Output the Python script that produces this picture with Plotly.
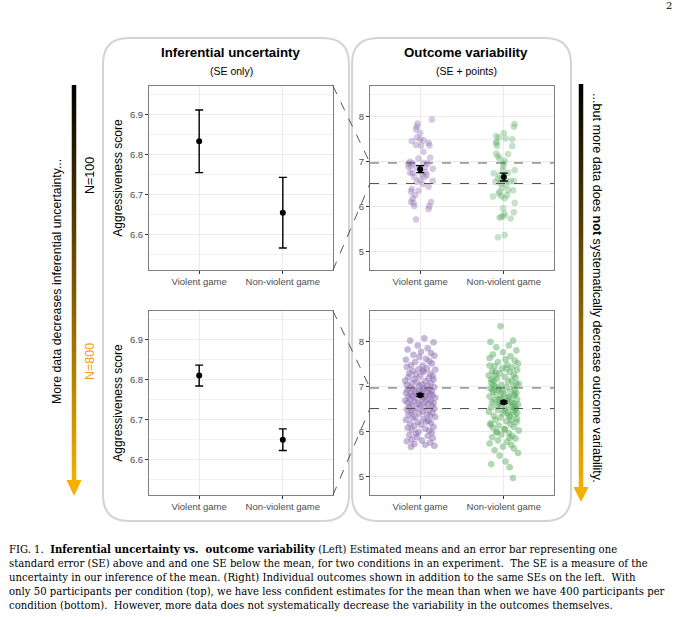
import plotly.graph_objects as go

W, H = 680, 617

categories = ["Violent game", "Non-violent game"]

# top row: 50 participants per condition
top_means = [6.833, 6.655]
top_se = [0.078, 0.088]
# bottom row: 400 participants per condition
bottom_means = [6.810, 6.650]
bottom_se = [0.026, 0.027]

left_yrange = [6.512, 6.971]
right_yrange = [4.58, 8.69]

# individual outcomes, top (N=50 each)
top_violent = [7.94, 7.85, 7.78, 7.72, 7.64, 7.54, 7.46, 7.50, 7.48, 7.42,
               7.37, 7.36, 7.36, 7.22, 7.07, 7.09, 7.00, 6.96, 6.96, 6.90,
               6.97, 6.96, 6.84, 6.75, 6.75, 6.77, 6.70, 6.66, 6.59, 6.55,
               6.57, 6.50, 6.39, 6.33, 6.35, 6.25, 6.18, 6.10, 6.08, 6.01,
               6.10, 6.01, 5.94, 5.71, 6.87, 6.72, 6.88, 6.88, 6.66, 6.44]
top_violent_jit = [0.14, -0.03, -0.04, -0.05, 0.00, -0.04, -0.10, 0.00, 0.04, 0.10,
                   -0.05, 0.01, 0.11, 0.04, -0.02, 0.12, -0.12, -0.14, -0.09, -0.11,
                   0.04, 0.09, 0.15, -0.12, -0.09, 0.06, 0.08, 0.05, 0.00, -0.04,
                   0.15, 0.03, -0.10, -0.11, -0.02, -0.06, -0.09, -0.11, -0.08, -0.07,
                   0.13, 0.11, 0.10, -0.05, -0.04, 0.02, -0.14, 0.06, -0.07, 0.10]
top_nonviolent = [7.84, 7.78, 7.64, 7.57, 7.54, 7.52, 7.50, 7.44, 7.35, 7.35,
                  7.18, 7.12, 7.07, 7.17, 7.02, 6.96, 6.90, 6.81, 6.74, 6.70,
                  6.75, 6.62, 6.59, 6.57, 6.57, 6.57, 6.48, 6.42, 6.33, 6.29,
                  6.36, 6.22, 6.23, 6.25, 6.08, 5.96, 5.84, 5.87, 5.77, 5.75,
                  5.73, 5.78, 5.31, 5.36, 6.81, 6.51, 6.36, 6.55, 6.18, 7.41]
top_nonviolent_jit = [0.13, 0.12, 0.00, -0.09, -0.06, 0.02, 0.10, -0.09, -0.08, 0.10,
                      -0.09, -0.07, -0.05, 0.05, 0.01, 0.00, -0.01, 0.13, -0.12, -0.05,
                      0.05, -0.07, -0.03, 0.03, 0.08, 0.12, 0.03, -0.02, -0.05, -0.06,
                      0.11, -0.13, -0.03, 0.04, 0.13, -0.01, 0.01, 0.12, -0.03, -0.05,
                      0.08, 0.00, -0.07, 0.01, -0.01, -0.04, 0.05, -0.10, 0.01, -0.09]

# individual outcomes, bottom (N=400 each, estimated subset of the cloud)
bottom_violent = [8.08, 8.03, 7.99, 7.92, 7.86, 7.83, 7.78, 7.75, 7.71, 7.69, 7.66, 7.62, 7.60, 7.57,
                  7.55, 7.52, 7.48, 7.47, 7.44, 7.41, 7.39, 7.38, 7.35, 7.33, 7.30, 7.29, 7.27, 7.24,
                  7.23, 7.21, 7.19, 7.17, 7.16, 7.13, 7.12, 7.10, 7.08, 7.07, 7.05, 7.04, 7.02, 7.01,
                  6.99, 6.98, 6.97, 6.95, 6.94, 6.93, 6.91, 6.90, 6.89, 6.88, 6.86, 6.85, 6.84, 6.83,
                  6.82, 6.81, 6.80, 6.79, 6.78, 6.76, 6.75, 6.74, 6.73, 6.72, 6.70, 6.69, 6.68, 6.67,
                  6.66, 6.64, 6.63, 6.62, 6.61, 6.59, 6.58, 6.57, 6.55, 6.54, 6.52, 6.51, 6.49, 6.48,
                  6.46, 6.45, 6.43, 6.42, 6.40, 6.38, 6.37, 6.35, 6.33, 6.32, 6.30, 6.28, 6.26, 6.24,
                  6.22, 6.21, 6.19, 6.17, 6.15, 6.12, 6.10, 6.08, 6.06, 6.04, 6.02, 5.99, 5.97, 5.95,
                  5.92, 5.90, 5.87, 5.85, 5.82, 5.80, 5.78, 5.75, 5.72, 5.70, 5.68, 5.66, 7.36, 6.91]
bottom_violent_jit = [0.05, -0.12, 0.16, -0.03, 0.09, -0.15, 0.01, 0.13, -0.08, 0.17, -0.01, 0.07, -0.17, 0.11,
                      -0.06, 0.14, -0.11, 0.03, -0.16, 0.08, -0.02, 0.18, -0.09, 0.04, -0.13, 0.12, -0.05, 0.15,
                      0.00, -0.14, 0.10, -0.07, 0.16, -0.18, 0.06, -0.04, 0.13, -0.10, 0.02, -0.16, 0.09, -0.01,
                      0.17, -0.12, 0.05, -0.08, 0.11, -0.15, 0.03, 0.14, -0.06, 0.08, -0.17, 0.01, -0.11, 0.12,
                      -0.03, 0.15, -0.09, 0.07, -0.14, 0.04, 0.18, -0.05, 0.10, -0.12, 0.02, -0.18, 0.13, -0.07,
                      0.06, -0.15, 0.16, -0.02, 0.09, -0.10, 0.00, 0.14, -0.13, 0.05, -0.04, 0.17, -0.16, 0.11,
                      -0.08, 0.03, -0.11, 0.15, -0.01, 0.08, -0.14, 0.12, -0.06, 0.18, -0.09, 0.04, -0.17, 0.10,
                      0.07, -0.03, 0.13, -0.12, 0.01, -0.07, 0.16, -0.15, 0.06, -0.10, 0.11, -0.02, 0.14, -0.05,
                      -0.13, 0.09, -0.04, 0.15, -0.10, 0.02, -0.16, 0.12, -0.07, 0.06, 0.17, -0.11, 0.03, -0.01]
bottom_nonviolent = [8.35, 8.03, 8.00, 7.92, 7.88, 7.81, 7.77, 7.72, 7.68, 7.64, 7.61, 7.58, 7.55, 7.52,
                     7.49, 7.46, 7.43, 7.41, 7.38, 7.35, 7.33, 7.30, 7.27, 7.25, 7.22, 7.20, 7.18, 7.15,
                     7.13, 7.11, 7.09, 7.06, 7.04, 7.02, 7.00, 6.98, 6.96, 6.94, 6.92, 6.90, 6.88, 6.86,
                     6.84, 6.82, 6.80, 6.78, 6.76, 6.74, 6.72, 6.70, 6.68, 6.66, 6.64, 6.62, 6.60, 6.58,
                     6.56, 6.54, 6.52, 6.50, 6.48, 6.46, 6.44, 6.42, 6.40, 6.38, 6.35, 6.33, 6.31, 6.28,
                     6.26, 6.23, 6.21, 6.18, 6.16, 6.13, 6.10, 6.08, 6.05, 6.02, 5.99, 5.96, 5.93, 5.90,
                     5.87, 5.84, 5.80, 5.77, 5.73, 5.70, 5.66, 5.62, 5.58, 5.52, 5.46, 5.33, 5.27, 5.20,
                     4.96, 6.71, 6.93, 6.47, 7.07, 6.59, 6.36, 7.26, 6.82, 6.15, 6.67, 7.40, 5.98, 6.54,
                     6.77, 7.03, 6.41, 6.88, 6.25, 7.16, 6.62, 6.95, 6.05, 7.33, 6.51, 6.73, 5.86, 7.47]
bottom_nonviolent_jit = [-0.04, 0.11, -0.16, 0.06, -0.09, 0.15, -0.01, -0.13, 0.08, -0.17, 0.02, 0.13, -0.07, 0.17,
                         0.04, -0.11, 0.10, -0.02, 0.16, -0.14, 0.07, -0.05, 0.12, -0.18, 0.01, 0.14, -0.08, 0.09,
                         -0.12, 0.05, -0.15, 0.18, -0.03, 0.11, -0.10, 0.03, -0.16, 0.13, -0.06, 0.08, -0.13, 0.15,
                         0.00, -0.09, 0.12, -0.17, 0.06, -0.02, 0.16, -0.11, 0.04, -0.14, 0.10, -0.05, 0.17, -0.08,
                         0.09, -0.15, 0.02, 0.14, -0.07, 0.11, -0.18, 0.05, -0.01, 0.13, -0.12, 0.07, -0.04, 0.16,
                         -0.10, 0.03, 0.15, -0.16, 0.08, -0.06, 0.12, -0.13, 0.01, 0.18, -0.09, 0.06, -0.03, 0.10,
                         -0.14, 0.14, -0.07, 0.04, -0.17, 0.09, -0.01, 0.12, -0.11, 0.17, -0.05, 0.02, -0.15, 0.07,
                         0.11, -0.06, -0.13, 0.01, 0.15, -0.03, 0.06, -0.10, 0.13, -0.16, 0.08, 0.03, -0.08, 0.12,
                         0.05, -0.12, 0.16, -0.02, 0.09, -0.15, 0.13, -0.06, 0.01, -0.10, 0.14, -0.04, 0.07, -0.17]

caption_lines = [
    "FIG. 1.  <b>Inferential uncertainty vs.  outcome variability</b> (Left) Estimated means and an error bar representing one",
    "standard error (SE) above and and one SE below the mean, for two conditions in an experiment.  The SE is a measure of the",
    "uncertainty in our inference of the mean. (Right) Individual outcomes shown in addition to the same SEs on the left.  With",
    "only 50 participants per condition (top), we have less confident estimates for the mean than when we have 400 participants per",
    "condition (bottom).  However, more data does not systematically decrease the variability in the outcomes themselves.",
]

SANS = "Liberation Sans, Arial, sans-serif"
SERIF = "DejaVu Serif, serif"
PURPLE = "#8c6bb1"
GREEN = "#5aae61"
GOLD = "#f5b000"


def X(x):
    return x / W


def Y(y):
    return 1 - y / H


# subplot areas in pixels (left, right, top, bottom)
dom_left_x = [X(149), X(333)]
dom_right_x = [X(370), X(554)]
dom_top_y = [Y(270), Y(86)]
dom_bot_y = [Y(495), Y(311)]

fig = go.Figure()

# points (right column)
for vals, jit, pos, col, axes, op in [
    (top_violent, top_violent_jit, 0, PURPLE, ("x3", "y3"), 0.35),
    (top_nonviolent, top_nonviolent_jit, 1, GREEN, ("x3", "y3"), 0.35),
    (bottom_violent, bottom_violent_jit, 0, PURPLE, ("x4", "y4"), 0.48),
    (bottom_nonviolent, bottom_nonviolent_jit, 1, GREEN, ("x4", "y4"), 0.48),
]:
    fig.add_trace(go.Scatter(
        x=[pos + j for j in jit], y=vals, mode="markers",
        xaxis=axes[0], yaxis=axes[1], showlegend=False, hoverinfo="y",
        marker=dict(size=6, color=col, opacity=op, line=dict(width=0.8, color=col))
    ))

# means with one SE either side
for means, se, axes in [
    (top_means, top_se, ("x", "y")),
    (bottom_means, bottom_se, ("x2", "y2")),
    (top_means, top_se, ("x3", "y3")),
    (bottom_means, bottom_se, ("x4", "y4")),
]:
    fig.add_trace(go.Scatter(
        x=[0, 1], y=means, mode="markers", xaxis=axes[0], yaxis=axes[1],
        showlegend=False, marker=dict(size=6, color="black"),
        error_y=dict(type="data", array=se, color="black", thickness=1.4, width=4)
    ))

# gradient bars for the two arrows
for xa, ya in [("x5", "y5"), ("x6", "y6")]:
    fig.add_trace(go.Heatmap(
        z=[[0, 0], [1, 1]], x=[0, 1], y=[0, 1], xaxis=xa, yaxis=ya,
        colorscale=[[0, GOLD], [1, "#000000"]], zsmooth="best",
        showscale=False, hoverinfo="skip"
    ))

tick_font = dict(family=SANS, size=9.5, color="#4d4d4d")


def cat_xaxis(dom, anchor):
    return dict(domain=dom, anchor=anchor, range=[-0.6, 1.6], tickvals=[0, 1],
                ticktext=categories, ticks="outside", ticklen=3, tickcolor="#333333",
                tickfont=tick_font, showgrid=True, gridcolor="#ebebeb", gridwidth=1,
                zeroline=False, showline=True, linecolor="#7f7f7f", linewidth=1, mirror=True,
                fixedrange=True)


def val_yaxis(dom, anchor, rng, ticks, minor, fmt, title):
    return dict(domain=dom, anchor=anchor, range=rng, tickvals=ticks, tickformat=fmt,
                ticks="outside", ticklen=3, tickcolor="#333333", tickfont=tick_font,
                showgrid=True, gridcolor="#ebebeb", gridwidth=1, zeroline=False,
                minor=dict(showgrid=True, gridcolor="#f2f2f2", gridwidth=0.7, tick0=0, dtick=minor),
                showline=True, linecolor="#7f7f7f", linewidth=1, mirror=True,
                title=dict(text=title, font=dict(family=SANS, size=12, color="black"), standoff=4),
                fixedrange=True)


fig.update_layout(
    width=W, height=H, margin=dict(l=0, r=0, t=0, b=0),
    paper_bgcolor="white", plot_bgcolor="white", showlegend=False,
    xaxis=cat_xaxis(dom_left_x, "y"),
    yaxis=val_yaxis(dom_top_y, "x", left_yrange, [6.6, 6.7, 6.8, 6.9], 0.05, ".1f", "Aggressiveness score"),
    xaxis2=cat_xaxis(dom_left_x, "y2"),
    yaxis2=val_yaxis(dom_bot_y, "x2", left_yrange, [6.6, 6.7, 6.8, 6.9], 0.05, ".1f", "Aggressiveness score"),
    xaxis3=cat_xaxis(dom_right_x, "y3"),
    yaxis3=val_yaxis(dom_top_y, "x3", right_yrange, [5, 6, 7, 8], 0.5, "d", ""),
    xaxis4=cat_xaxis(dom_right_x, "y4"),
    yaxis4=val_yaxis(dom_bot_y, "x4", right_yrange, [5, 6, 7, 8], 0.5, "d", ""),
    xaxis5=dict(domain=[X(71.5), X(76.5)], anchor="y5", range=[0, 1], visible=False, fixedrange=True),
    yaxis5=dict(domain=[Y(481), Y(85)], anchor="x5", range=[0, 1], visible=False, fixedrange=True),
    xaxis6=dict(domain=[X(578.5), X(583.5)], anchor="y6", range=[0, 1], visible=False, fixedrange=True),
    yaxis6=dict(domain=[Y(488), Y(84)], anchor="x6", range=[0, 1], visible=False, fixedrange=True),
)


def rounded_box(x0, y0, x1, y1, r):
    return (f"M {X(x0 + r)},{Y(y0)} L {X(x1 - r)},{Y(y0)} Q {X(x1)},{Y(y0)} {X(x1)},{Y(y0 + r)} "
            f"L {X(x1)},{Y(y1 - r)} Q {X(x1)},{Y(y1)} {X(x1 - r)},{Y(y1)} "
            f"L {X(x0 + r)},{Y(y1)} Q {X(x0)},{Y(y1)} {X(x0)},{Y(y1 - r)} "
            f"L {X(x0)},{Y(y0 + r)} Q {X(x0)},{Y(y0)} {X(x0 + r)},{Y(y0)} Z")


shapes = [
    dict(type="path", xref="paper", yref="paper", path=rounded_box(103, 38, 349, 521, 26),
         line=dict(color="#d4d4d4", width=2), layer="below"),
    dict(type="path", xref="paper", yref="paper", path=rounded_box(352, 38, 571, 521, 26),
         line=dict(color="#d4d4d4", width=2), layer="below"),
    # arrowheads
    dict(type="path", xref="paper", yref="paper",
         path=f"M {X(66.5)},{Y(480)} L {X(81.5)},{Y(480)} L {X(74)},{Y(496)} Z",
         fillcolor=GOLD, line=dict(width=0)),
    dict(type="path", xref="paper", yref="paper",
         path=f"M {X(573.5)},{Y(487)} L {X(588.5)},{Y(487)} L {X(581)},{Y(502)} Z",
         fillcolor=GOLD, line=dict(width=0)),
]


def to_paper(dom, rng, v):
    return dom[0] + (v - rng[0]) / (rng[1] - rng[0]) * (dom[1] - dom[0])


dash = dict(color="#555555", width=1, dash="dash")
for yref, dom in [("y3", dom_top_y), ("y4", dom_bot_y)]:
    for v in left_yrange:
        shapes.append(dict(type="line", xref=yref.replace("y", "x") + " domain", yref=yref,
                           x0=0, x1=1, y0=v, y1=v, line=dash))
    # connectors from the zoomed left panel to the matching band on the right
    shapes.append(dict(type="line", xref="paper", yref="paper",
                       x0=dom_left_x[1], y0=dom[1], x1=dom_right_x[0],
                       y1=to_paper(dom, right_yrange, left_yrange[1]), line=dash))
    shapes.append(dict(type="line", xref="paper", yref="paper",
                       x0=dom_left_x[1], y0=dom[0], x1=dom_right_x[0],
                       y1=to_paper(dom, right_yrange, left_yrange[0]), line=dash))

fig.update_layout(shapes=shapes)


def note(text, x, y, size, color="black", family=SANS, angle=0, xanchor="center"):
    fig.add_annotation(text=text, x=X(x), y=Y(y), xref="paper", yref="paper",
                       showarrow=False, textangle=angle, xanchor=xanchor, yanchor="middle",
                       font=dict(family=family, size=size, color=color))


note("<b>Inferential uncertainty</b>", 231, 53, 13.3)
note("(SE only)", 231, 71, 10.5)
note("<b>Outcome variability</b>", 466, 53, 13.3)
note("(SE + points)", 466, 71, 10.5)

note("More data decreases inferential uncertainty...", 57, 282, 12.3, angle=-90)
note("N=100", 90, 176, 12.5, angle=-90)
note("N=800", 90, 362, 12.5, color="#f39a1e", angle=-90)
note("...but more data does <b>not</b> systematically decrease outcome variability.", 597, 288, 12.6, angle=90)

note("2", 669, 6, 10, family=SERIF)

for i, line in enumerate(caption_lines):
    note(line, 7, 549 + i * 14.2, 10.1, family=SERIF, xanchor="left")

fig.write_html("out.html", config={"displayModeBar": False},
               post_script="document.body.style.margin = '0px';")
